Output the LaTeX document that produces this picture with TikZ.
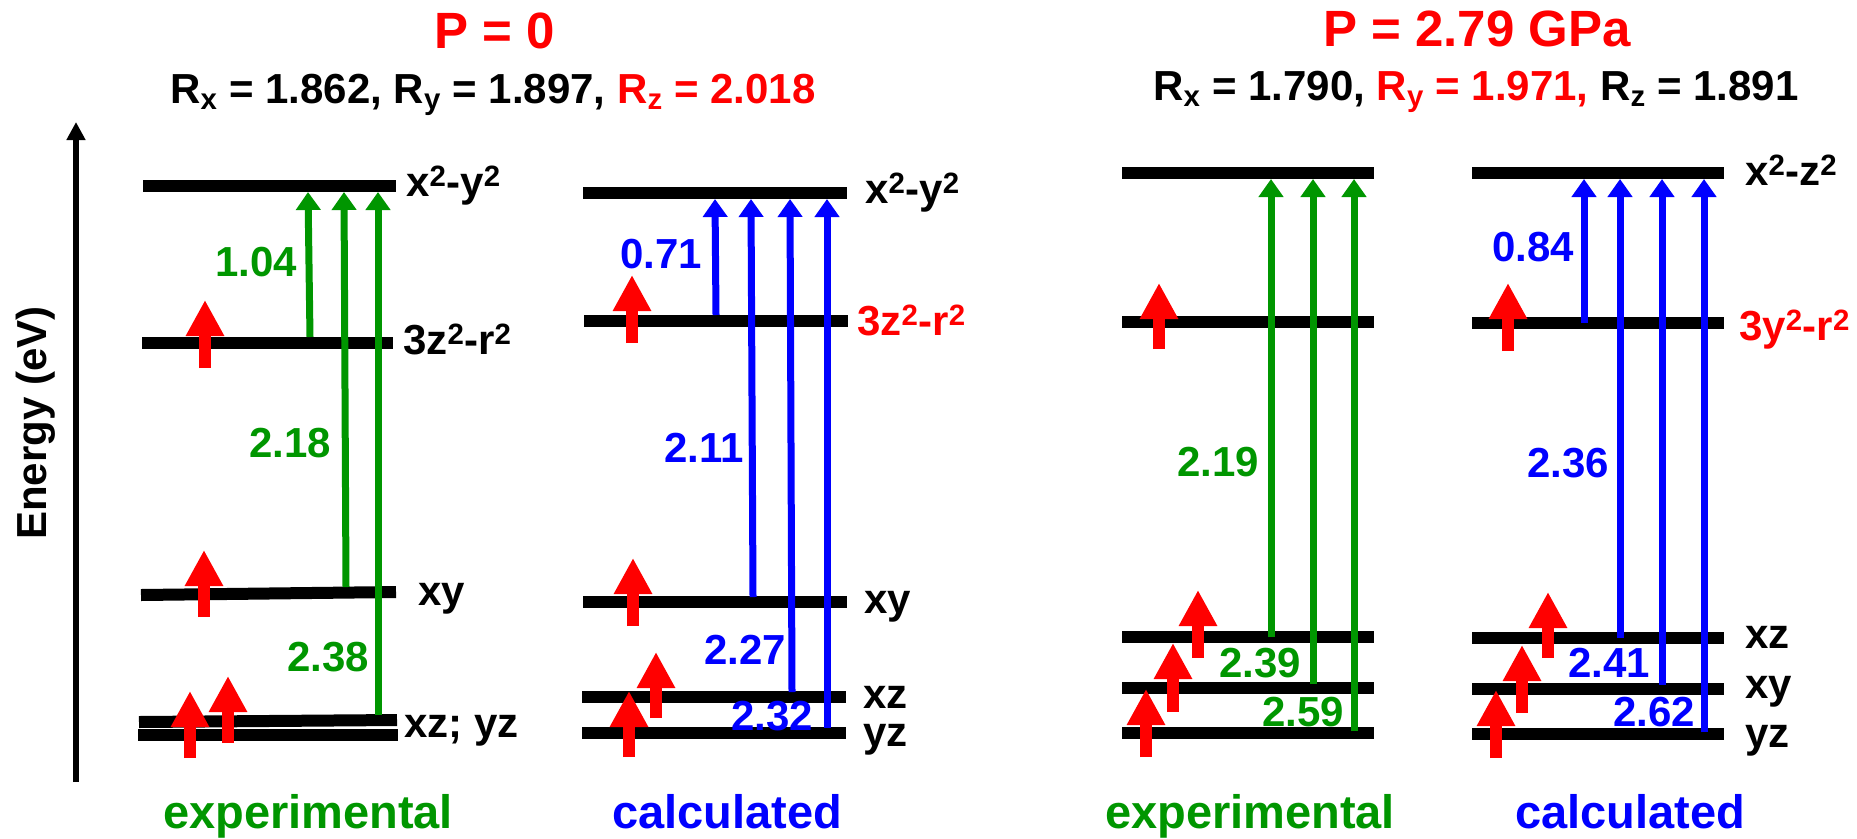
\documentclass[tikz,border=0pt]{standalone}
\usepackage{fontspec}
\setmainfont{Liberation Sans}
\usetikzlibrary{arrows.meta}
\definecolor{ggreen}{RGB}{0,150,0}
\definecolor{bblue}{RGB}{0,0,255}
\definecolor{rred}{RGB}{255,0,0}
\newcommand\fsz[1]{\fontsize{#1}{#1}\selectfont\bfseries}
\newcommand\sq{\textsuperscript{2}}
\begin{document}
\begin{tikzpicture}[x=1pt,y=-1pt,
  level/.style={line width=12pt, black},
  trans/.style={line width=7pt, -{Triangle[width=24pt,length=18pt]}},
  gtrans/.style={trans, ggreen},
  btrans/.style={trans, bblue},
  spin/.style={line width=12pt, rred, -{Triangle[width=36pt,length=36pt]}},
  txt/.style={inner sep=0pt, font=\fsz{42}},
  orb/.style={txt, anchor=base west},
  gnum/.style={txt, text=ggreen},
  bnum/.style={txt, text=bblue},
  title/.style={inner sep=0pt, font=\fsz{51}, text=rred},
  panel/.style={inner sep=0pt, font=\fsz{47}, anchor=base}
]
\useasboundingbox (0,0) rectangle (1857,838);

% ---------- axis ----------
\coordinate (axb) at (76,782);
\coordinate (axt) at (76,122);
\draw[line width=5.5pt, -{Triangle[width=18pt,length=18pt]}] (axb) -- (axt);
\node[txt, rotate=90, anchor=base] (energy) at (46,423) {Energy (eV)};

% ---------- titles ----------
\node[title] (t1) at (495,31) {P = 0};
\node[title] (t2) at (1477,29) {P = 2.79 GPa};
\node[txt, anchor=base] (r1) at (493,103) {R\textsubscript{x} = 1.862, R\textsubscript{y} = 1.897, {\color{rred}R\textsubscript{z} = 2.018}};
\node[txt, anchor=base] (r2) at (1476,100) {R\textsubscript{x} = 1.790, {\color{rred}R\textsubscript{y} = 1.971,} R\textsubscript{z} = 1.891};

% ---------- left experimental ----------
\draw[level] (143,186) -- (396,186);
\draw[level] (142,342.5) -- (393,342.5);
\draw[level] (141,595) -- (396,592);
\draw[level] (139,722) -- (397,720);
\draw[level] (138,735) -- (398,735);
\draw[gtrans] (310,337) -- (308,192);
\draw[gtrans] (346,587) -- (344,192);
\draw[gtrans] (378,715) -- (378,192);
\draw[spin] (205,368) -- (205,300);
\draw[spin] (204,617) -- (204,550);
\draw[spin] (190,758) -- (190,691);
\draw[spin] (228,743) -- (228,676);
\node[orb] (le1) at (406,196) {x\sq-y\sq};
\node[orb] (le2) at (403,354) {3z\sq-r\sq};
\node[orb] (le3) at (418,605) {xy};
\node[orb] (le4) at (404,737) {xz; yz};
\node[gnum] (g1) at (256,262) {1.04};
\node[gnum] (g2) at (290,443) {2.18};
\node[gnum] (g3) at (328,657) {2.38};
\node[panel, text=ggreen] (p1) at (308,828) {experimental};

% ---------- left calculated ----------
\draw[level] (583,193) -- (847,193);
\draw[level] (584,321) -- (848,321);
\draw[level] (583,602) -- (847,602);
\draw[level] (582,697) -- (846,697);
\draw[level] (582,733) -- (846,733);
\draw[btrans] (716,315) -- (715,199);
\draw[btrans] (753,597) -- (751,199);
\draw[btrans] (792,692) -- (790,199);
\draw[btrans] (827,728) -- (827,199);
\draw[spin] (632,343) -- (632,275);
\draw[spin] (633,626) -- (633,558);
\draw[spin] (629,757) -- (629,691);
\draw[spin] (656,718) -- (656,652);
\node[orb] (lc1) at (865,203) {x\sq-y\sq};
\node[orb, text=rred] (lc2) at (857,335) {3z\sq-r\sq};
\node[orb] (lc3) at (864,613) {xy};
\node[orb] (lc4) at (863,708) {xz};
\node[orb] (lc5) at (863,746) {yz};
\node[bnum] (b1) at (661,254) {0.71};
\node[bnum] (b2) at (704,448) {2.11};
\node[bnum] (b3) at (745,650) {2.27};
\node[bnum] (b4) at (772,716) {2.32};
\node[panel, text=bblue] (p2) at (727,828) {calculated};

% ---------- right experimental ----------
\draw[level] (1122,173) -- (1374,173);
\draw[level] (1122,322) -- (1374,322);
\draw[level] (1122,637) -- (1374,637);
\draw[level] (1122,688) -- (1374,688);
\draw[level] (1122,733) -- (1374,733);
\draw[gtrans] (1271,637) -- (1271,179);
\draw[gtrans] (1313,684) -- (1313,179);
\draw[gtrans] (1354,731) -- (1354,179);
\draw[spin] (1159,349) -- (1159,283);
\draw[spin] (1198,658) -- (1198,590);
\draw[spin] (1173,712) -- (1173,643);
\draw[spin] (1146,757) -- (1146,689);
\node[gnum] (g4) at (1218,462) {2.19};
\node[gnum] (g5) at (1260,663) {2.39};
\node[gnum] (g6) at (1303,712) {2.59};
\node[panel, text=ggreen] (p3) at (1250,828) {experimental};

% ---------- right calculated ----------
\draw[level] (1472,173) -- (1724,173);
\draw[level] (1472,323) -- (1724,323);
\draw[level] (1472,638) -- (1724,638);
\draw[level] (1472,689) -- (1724,689);
\draw[level] (1472,734) -- (1724,734);
\draw[btrans] (1584,323) -- (1584,179);
\draw[btrans] (1620,638) -- (1620,179);
\draw[btrans] (1662,685) -- (1662,179);
\draw[btrans] (1704,732) -- (1704,179);
\draw[spin] (1508,351) -- (1508,283);
\draw[spin] (1548,658) -- (1548,592);
\draw[spin] (1522,713) -- (1522,645);
\draw[spin] (1496,758) -- (1496,690);
\node[orb] (rc1) at (1745,185) {x\sq-z\sq};
\node[orb, text=rred] (rc2) at (1739,340) {3y\sq-r\sq};
\node[orb] (rc3) at (1745,648) {xz};
\node[orb] (rc4) at (1745,698) {xy};
\node[orb] (rc5) at (1745,747) {yz};
\node[bnum] (b5) at (1533,247) {0.84};
\node[bnum] (b6) at (1568,463) {2.36};
\node[bnum] (b7) at (1609,663) {2.41};
\node[bnum] (b8) at (1654,712) {2.62};
\node[panel, text=bblue] (p4) at (1630,828) {calculated};
\end{tikzpicture}
\end{document}
